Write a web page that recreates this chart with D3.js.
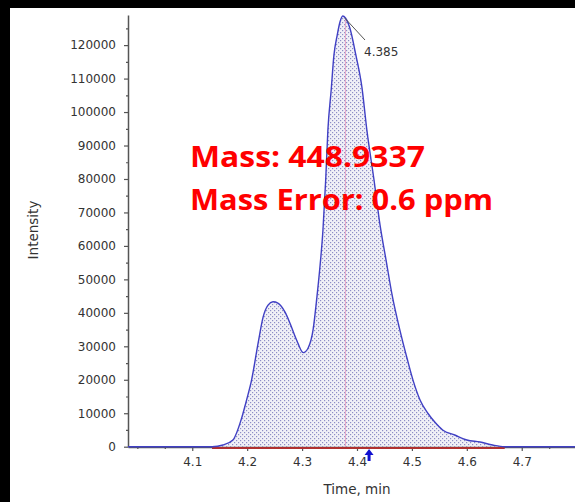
<!DOCTYPE html>
<html>
<head>
<meta charset="utf-8">
<script src="https://cdn.jsdelivr.net/npm/d3@7"></script>
<style>
  html, body { margin: 0; padding: 0; background: #ffffff; }
  svg { display: block; }
</style>
</head>
<body>
<svg id="chart" width="575" height="502"></svg>
<script>
// ---- data ----
const times = [3.983, 4.136, 4.156, 4.174, 4.190, 4.199, 4.208, 4.220, 4.229, 4.238, 4.247, 4.256,
  4.269, 4.278, 4.290, 4.302, 4.311, 4.320, 4.327, 4.332, 4.338, 4.343, 4.347, 4.353, 4.358, 4.364,
  4.369, 4.374, 4.379, 4.387, 4.398, 4.409, 4.418, 4.431, 4.442, 4.453, 4.464, 4.478, 4.491, 4.502, 4.515,
  4.529, 4.542, 4.556, 4.578, 4.600, 4.624, 4.647, 4.669, 4.797];
const intensity = [0, 0, 500, 2000, 8600, 14000, 19900, 31000, 38700, 42300, 43300, 42900,
  40200, 36900, 31900, 28100, 29500, 34900, 44700, 52800, 64700, 79700, 94600, 106600, 117000, 123000,
  126900, 128700, 128100, 125100, 117000, 107400, 94600, 79700, 66200, 55700, 45300, 34900, 26500, 19900, 13900,
  10000, 7300, 5000, 3500, 2000, 1400, 500, 0, 0];
const integrationStart = 4.136;
const integrationEnd = 4.669;
const apexMarkerTime = 4.379;
const apexLabel = "4.385";
const arrowTime = 4.422;
const yTicks = [0, 10000, 20000, 30000, 40000, 50000, 60000, 70000, 80000, 90000, 100000, 110000, 120000];
const yMinorTicks = [5000, 15000, 25000, 35000, 45000, 55000, 65000, 75000, 85000, 95000, 105000, 115000, 125000];
const xTicks = [4.1, 4.2, 4.3, 4.4, 4.5, 4.6, 4.7];
const xMinorTicks = [4.0, 4.05, 4.15, 4.25, 4.35, 4.45, 4.55, 4.65, 4.75];
const xTitle = "Time, min";
const yTitle = "Intensity";
const annotations = ["Mass: 448.9337", "Mass Error: 0.6 ppm"];

const svg = d3.select("#chart");
const W = 575, H = 502;

// scales
const x = d3.scaleLinear().domain([3.983, 4.797]).range([128, 575]);
const y = d3.scaleLinear().domain([0, 129000]).range([446.7, 15]);

// background & black frame edges
svg.append("rect").attr("width", W).attr("height", H).attr("fill", "#fff");
svg.append("rect").attr("x", 0).attr("y", 0).attr("width", W).attr("height", 8).attr("fill", "#000");
svg.append("rect").attr("x", 0).attr("y", 0).attr("width", 10).attr("height", H).attr("fill", "#000");

// dotted fill pattern
const defs = svg.append("defs");
const pat = defs.append("pattern").attr("id", "dots").attr("patternUnits", "userSpaceOnUse")
  .attr("width", 4).attr("height", 4);
pat.append("rect").attr("width", 4).attr("height", 4).attr("fill", "#f1f1f7");
pat.append("rect").attr("x", 0).attr("y", 0).attr("width", 1.2).attr("height", 1.2).attr("fill", "#8e8ec6");
pat.append("rect").attr("x", 2).attr("y", 2).attr("width", 1.2).attr("height", 1.2).attr("fill", "#8e8ec6");

const data = times.map((t, i) => ({ t, v: intensity[i] }));
const peakData = data.filter(d => d.t >= integrationStart && d.t <= integrationEnd);

// filled peak area
svg.append("path")
  .datum(peakData)
  .attr("fill", "url(#dots)")
  .attr("d", d3.area().x(d => x(d.t)).y0(y(0)).y1(d => y(d.v)).curve(d3.curveMonotoneX));

// apex vertical marker (pink)
svg.append("line")
  .attr("x1", x(apexMarkerTime)).attr("x2", x(apexMarkerTime))
  .attr("y1", y(128000)).attr("y2", y(0))
  .attr("stroke", "#e6a8c8").attr("stroke-width", 1);

// axes
const axisColor = "#555";
svg.append("g").attr("transform", "translate(128,0)")
  .call(d3.axisLeft(y).tickValues(yTicks).tickSize(4).tickSizeOuter(0).tickFormat(d3.format("d")).tickPadding(8));
svg.append("g").attr("transform", "translate(128,0)")
  .call(d3.axisLeft(y).tickValues(yMinorTicks).tickSize(2).tickSizeOuter(0).tickFormat(""))
  .select(".domain").remove();
svg.append("g").attr("transform", "translate(0,447)")
  .call(d3.axisBottom(x).tickValues(xTicks).tickSize(4).tickSizeOuter(0).tickFormat(d3.format(".1f")).tickPadding(6));
svg.append("g").attr("transform", "translate(0,447)")
  .call(d3.axisBottom(x).tickValues(xMinorTicks).tickSize(2).tickSizeOuter(0).tickFormat(""))
  .select(".domain").remove();

svg.selectAll(".domain").attr("stroke", axisColor).attr("stroke-width", 1.5);
svg.selectAll(".tick line").attr("stroke", axisColor).attr("stroke-width", 1.2);
svg.selectAll(".tick text").attr("fill", "#333").attr("font-family", "DejaVu Sans").attr("font-size", 12);

// integration baseline (red)
svg.append("line")
  .attr("x1", x(integrationStart)).attr("x2", x(integrationEnd))
  .attr("y1", 448).attr("y2", 448)
  .attr("stroke", "#b03030").attr("stroke-width", 2);

// chromatogram trace
svg.append("path")
  .datum(data)
  .attr("fill", "none")
  .attr("stroke", "#4040c4")
  .attr("stroke-width", 1.4)
  .attr("d", d3.line().x(d => x(d.t)).y(d => y(d.v)).curve(d3.curveMonotoneX));

// blue up-arrow marker under axis
const ax = x(arrowTime);
svg.append("path")
  .attr("d", `M${ax},449 L${ax - 4.5},455 L${ax + 4.5},455 Z`)
  .attr("fill", "#1010d0");
svg.append("rect").attr("x", ax - 1.5).attr("y", 454).attr("width", 3).attr("height", 7).attr("fill", "#1010d0");

// apex label with leader line
const apexIdx = d3.maxIndex(intensity);
svg.append("line")
  .attr("x1", x(times[apexIdx]) + 2).attr("y1", y(intensity[apexIdx]) + 2)
  .attr("x2", 365).attr("y2", 40)
  .attr("stroke", "#555").attr("stroke-width", 1);
svg.append("text").attr("x", 364).attr("y", 56)
  .attr("font-family", "DejaVu Sans").attr("font-size", 12).attr("fill", "#333")
  .text(apexLabel);

// axis titles
svg.append("text").attr("x", 357).attr("y", 494).attr("text-anchor", "middle")
  .attr("font-family", "DejaVu Sans").attr("font-size", 13.5).attr("fill", "#333")
  .text(xTitle);
svg.append("text").attr("transform", "translate(38,230) rotate(-90)").attr("text-anchor", "middle")
  .attr("font-family", "DejaVu Sans").attr("font-size", 13.5).attr("fill", "#333")
  .text(yTitle);

// red annotations
const annY = [166.5, 210];
const annW = [235, 303];
annotations.forEach((s, i) => {
  svg.append("text").attr("x", 190).attr("y", annY[i])
    .attr("font-family", "'Open Sans', Lato, sans-serif").attr("font-weight", "bold")
    .attr("font-size", 29).attr("fill", "#ff0000")
    .attr("textLength", annW[i]).attr("lengthAdjust", "spacingAndGlyphs")
    .text(s);
});
</script>
</body>
</html>
